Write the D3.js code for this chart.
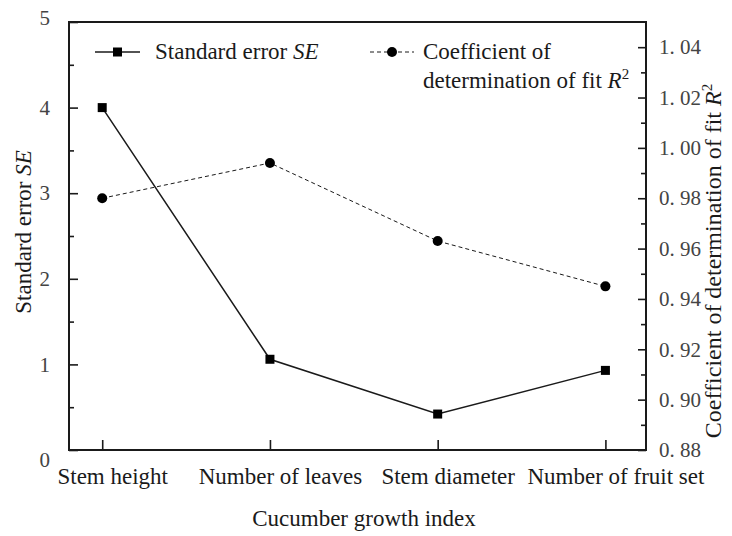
<!DOCTYPE html>
<html>
<head>
<meta charset="utf-8">
<script src="https://cdn.jsdelivr.net/npm/d3@7/dist/d3.min.js"></script>
<style>
  html, body { margin: 0; padding: 0; background: #fff; }
  svg { display: block; }
  svg text { font-family: "Liberation Serif", Tinos, "Times New Roman", Times, "DejaVu Serif", serif !important; }
</style>
</head>
<body>
<svg id="chart" width="732" height="536"></svg>
<script>
// ---- data ----
const categories = ["Stem height", "Number of leaves", "Stem diameter", "Number of fruit set"];
const seValues = [4.0, 1.06, 0.42, 0.93];
const r2Values = [0.98, 0.994, 0.963, 0.945];
const leftTicks = [0, 1, 2, 3, 4, 5];
const leftMinorTicks = [0.5, 1.5, 2.5, 3.5, 4.5];
const rightTicks = [0.88, 0.90, 0.92, 0.94, 0.96, 0.98, 1.00, 1.02, 1.04];
const rightMinorTicks = [0.89, 0.91, 0.93, 0.95, 0.97, 0.99, 1.01, 1.03];
const xTitle = "Cucumber growth index";

// ---- layout ----
const W = 732, H = 536;
const margin = { top: 22, right: 86, bottom: 86, left: 69 };
const svg = d3.select("#chart");
const ink = "#1a1a1a";
const tickInk = "#444";
const FONT = "'Liberation Serif', Tinos, 'Times New Roman', Times, 'DejaVu Serif', serif";
const FS = 23;

const x = d3.scalePoint().domain(categories)
  .range([margin.left, W - margin.right]).padding(0.22).align(0.45);
const yL = d3.scaleLinear().domain([0, 5]).range([H - margin.bottom, margin.top]);
const yR = d3.scaleLinear().domain([0.88, 1.05]).range([H - margin.bottom, margin.top]);

const x0 = margin.left, x1 = W - margin.right, yB = H - margin.bottom, yT = margin.top;

// Left axis (ticks inward)
const gL = svg.append("g").attr("transform", `translate(${x0},0)`)
  .call(d3.axisLeft(yL).tickValues(leftTicks).tickSize(-9).tickPadding(19).tickFormat(d3.format("d")));
svg.append("g").attr("transform", `translate(${x0},0)`)
  .call(d3.axisLeft(yL).tickValues(leftMinorTicks).tickSize(-5).tickFormat(""))
  .call(g => g.select(".domain").remove());
gL.select(".domain").remove();
gL.selectAll("text").attr("font-size", 21).attr("fill", tickInk)
  .attr("dy", d => d === 0 ? "0.8em" : d === 5 ? "0.1em" : "0.32em");

// Right axis (ticks inward)
const gR = svg.append("g").attr("transform", `translate(${x1},0)`)
  .call(d3.axisRight(yR).tickValues(rightTicks).tickSize(-8).tickPadding(13)
    .tickFormat(d => d3.format(".2f")(d).replace(".", ". ")));
svg.append("g").attr("transform", `translate(${x1},0)`)
  .call(d3.axisRight(yR).tickValues(rightMinorTicks).tickSize(-5).tickFormat(""))
  .call(g => g.select(".domain").remove());
gR.select(".domain").remove();
gR.selectAll("text").attr("font-size", 21).attr("fill", tickInk).attr("dy", "0.32em");

// Bottom axis (ticks inward)
const gB = svg.append("g").attr("transform", `translate(0,${yB})`)
  .call(d3.axisBottom(x).tickSize(-10));
gB.select(".domain").remove();
gB.selectAll("text").attr("font-size", FS).attr("fill", ink)
  .attr("dy", null).attr("y", 34).attr("dx", 10);

svg.selectAll("g").attr("font-family", FONT);
svg.selectAll(".tick line").attr("stroke", ink).attr("stroke-width", 1.6);

// Frame
svg.append("rect").attr("x", x0).attr("y", yT).attr("width", x1 - x0).attr("height", yB - yT)
  .attr("fill", "none").attr("stroke", ink).attr("stroke-width", 2);

// Axis titles
svg.append("text").attr("x", 364).attr("y", 526).attr("text-anchor", "middle")
  .attr("font-family", FONT).attr("font-size", FS).attr("fill", ink).text(xTitle);

const lt = svg.append("text").attr("transform", "translate(31,232) rotate(-90)")
  .attr("text-anchor", "middle").attr("font-family", FONT).attr("font-size", FS).attr("fill", ink);
lt.append("tspan").text("Standard error ");
lt.append("tspan").attr("font-style", "italic").text("SE");

const rt = svg.append("text").attr("transform", "translate(721,261) rotate(-90)")
  .attr("text-anchor", "middle").attr("font-family", FONT).attr("font-size", 24).attr("fill", ink);
rt.append("tspan").text("Coefficient of determination of fit ");
rt.append("tspan").attr("font-style", "italic").text("R");
rt.append("tspan").attr("font-size", 15).attr("dy", "-0.6em").text("2");

// Lines
const seLine = d3.line().x((d, i) => x(categories[i])).y(d => yL(d));
const r2Line = d3.line().x((d, i) => x(categories[i])).y(d => yR(d));

svg.append("path").datum(r2Values).attr("d", r2Line)
  .attr("fill", "none").attr("stroke", ink).attr("stroke-width", 1).attr("stroke-dasharray", "4,3");
svg.append("path").datum(seValues).attr("d", seLine)
  .attr("fill", "none").attr("stroke", ink).attr("stroke-width", 1.5);

svg.selectAll(".r2pt").data(r2Values).join("circle").attr("class", "r2pt")
  .attr("cx", (d, i) => x(categories[i])).attr("cy", d => yR(d)).attr("r", 5).attr("fill", "#000");
const sq = 9;
svg.selectAll(".sept").data(seValues).join("rect").attr("class", "sept")
  .attr("x", (d, i) => x(categories[i]) - sq / 2).attr("y", d => yL(d) - sq / 2)
  .attr("width", sq).attr("height", sq).attr("fill", "#000");

// Legend
const lg = svg.append("g").attr("font-family", FONT);
lg.append("line").attr("x1", 95).attr("x2", 140).attr("y1", 52).attr("y2", 52)
  .attr("stroke", ink).attr("stroke-width", 1.5);
lg.append("rect").attr("x", 117.5 - sq / 2).attr("y", 52 - sq / 2).attr("width", sq).attr("height", sq).attr("fill", "#000");
const l1 = lg.append("text").attr("x", 155).attr("y", 59).attr("font-size", FS).attr("fill", ink);
l1.append("tspan").text("Standard error ");
l1.append("tspan").attr("font-style", "italic").text("SE");

lg.append("line").attr("x1", 370).attr("x2", 414).attr("y1", 52).attr("y2", 52)
  .attr("stroke", ink).attr("stroke-width", 1).attr("stroke-dasharray", "4,3");
lg.append("circle").attr("cx", 392).attr("cy", 52).attr("r", 5).attr("fill", "#000");
lg.append("text").attr("x", 423).attr("y", 59).attr("font-size", FS).attr("fill", ink).text("Coefficient of");
const l2 = lg.append("text").attr("x", 423).attr("y", 88).attr("font-size", FS).attr("fill", ink);
l2.append("tspan").text("determination of fit ");
l2.append("tspan").attr("font-style", "italic").text("R");
l2.append("tspan").attr("font-size", 15).attr("dy", "-0.6em").text("2");
</script>
</body>
</html>
